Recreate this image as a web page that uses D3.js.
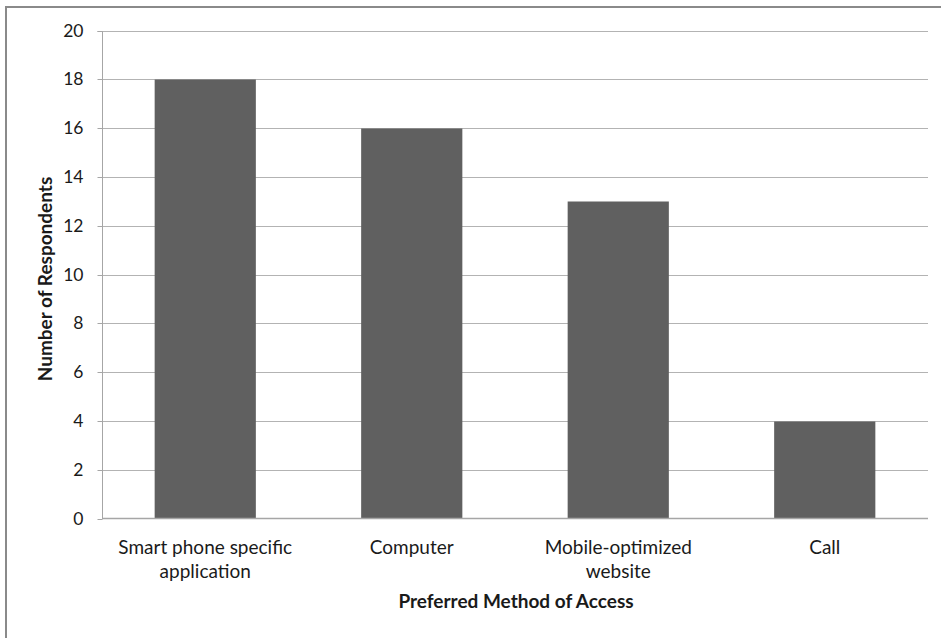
<!DOCTYPE html>
<html>
<head>
<meta charset="utf-8">
<script src="https://cdn.jsdelivr.net/npm/d3@7"></script>
<style>
  html, body { margin: 0; padding: 0; background: #fff; }
  svg { display: block; }
  text { font-family: Lato, "Open Sans", sans-serif; fill: #1a1a1a; }
</style>
</head>
<body>
<svg id="chart" width="941" height="638"></svg>
<script>
// Survey responses by preferred method of access
const categories = [
  ["Smart phone specific", "application"],
  ["Computer"],
  ["Mobile-optimized", "website"],
  ["Call"]
];
const respondents = [18, 16, 13, 4];
const yTicks = [0, 2, 4, 6, 8, 10, 12, 14, 16, 18, 20];
const xTitle = "Preferred Method of Access";
const yTitle = "Number of Respondents";

const svg = d3.select("#chart");
const W = 941, H = 638;
const plot = { left: 102, right: 928, top: 30.5, bottom: 518.5 };

// outer frame (runs off the right and bottom edges)
svg.append("rect")
  .attr("x", 6).attr("y", 7)
  .attr("width", W + 10).attr("height", H + 10)
  .attr("fill", "none").attr("stroke", "#8a8a8a").attr("stroke-width", 2);

const x = d3.scaleBand()
  .domain(d3.range(categories.length))
  .range([plot.left, plot.right])
  .paddingInner(0.51).paddingOuter(0.255);

const y = d3.scaleLinear().domain([0, 20]).range([plot.bottom, plot.top]);

// horizontal gridlines
svg.append("g").selectAll("line")
  .data(yTicks.filter(d => d > 0))
  .join("line")
  .attr("x1", plot.left).attr("x2", plot.right)
  .attr("y1", d => Math.round(y(d)) + 0.5).attr("y2", d => Math.round(y(d)) + 0.5)
  .attr("stroke", "#b3b3b3").attr("stroke-width", 1);

// bars
svg.append("g").selectAll("rect")
  .data(respondents)
  .join("rect")
  .attr("x", (d, i) => x(i))
  .attr("width", x.bandwidth())
  .attr("y", d => Math.round(y(d)) + 0.5)
  .attr("height", d => plot.bottom - Math.round(y(d)) - 0.5)
  .attr("fill", "#606060");

// y axis
const yAxis = d3.axisLeft(y).tickValues(yTicks).tickSize(5).tickPadding(14);
const gy = svg.append("g")
  .attr("transform", `translate(${plot.left + 0.5},0)`)
  .call(yAxis);
gy.select(".domain").attr("stroke", "#a6a6a6").attr("d", `M-5,${Math.round(y(20)) + 0.5}H0V${plot.bottom}`);
gy.selectAll(".tick line").attr("stroke", "#a6a6a6");
gy.selectAll(".tick").attr("transform", d => `translate(0,${Math.round(y(d)) + 0.5})`);
gy.selectAll(".tick text")
  .attr("font-size", 17.5).attr("fill", "#1a1a1a")
  .style("font-family", "Lato, 'Open Sans', sans-serif");

// x axis baseline
svg.append("line")
  .attr("x1", plot.left).attr("x2", plot.right)
  .attr("y1", plot.bottom).attr("y2", plot.bottom)
  .attr("stroke", "#a6a6a6").attr("stroke-width", 1.5);

// category labels
const labels = svg.append("g").selectAll("text")
  .data(categories)
  .join("text")
  .attr("x", (d, i) => x(i) + x.bandwidth() / 2)
  .attr("y", 554)
  .attr("text-anchor", "middle")
  .attr("font-size", 19);
labels.selectAll("tspan")
  .data(d => d)
  .join("tspan")
  .attr("x", function () { return this.parentNode.getAttribute("x"); })
  .attr("dy", (d, i) => i === 0 ? 0 : 23.5)
  .text(d => d);

// axis titles
svg.append("text")
  .attr("x", 516).attr("y", 608)
  .attr("text-anchor", "middle")
  .attr("font-size", 19).attr("font-weight", "bold")
  .text(xTitle);

svg.append("text")
  .attr("transform", `translate(52,279) rotate(-90)`)
  .attr("text-anchor", "middle")
  .attr("font-size", 19).attr("font-weight", "bold")
  .text(yTitle);
</script>
</body>
</html>
